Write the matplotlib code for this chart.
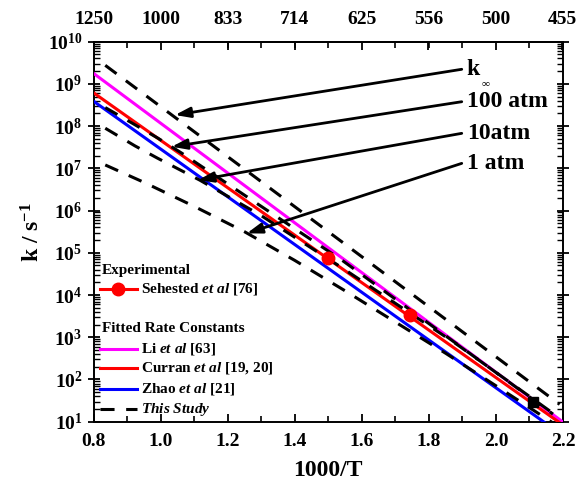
import matplotlib
matplotlib.use("Agg")
import matplotlib.pyplot as plt
import numpy as np
from matplotlib.ticker import LogLocator, NullFormatter, FuncFormatter, MultipleLocator

plt.rcParams['font.family'] = ['Liberation Serif', 'DejaVu Serif']
plt.rcParams['font.weight'] = 'bold'
plt.rcParams['mathtext.fontset'] = 'custom'
plt.rcParams['mathtext.rm'] = 'Liberation Serif:bold'
plt.rcParams['mathtext.bf'] = 'Liberation Serif:bold'
plt.rcParams['mathtext.it'] = 'Liberation Serif:bold:italic'

# ---- fitted rate constants (log10 k vs 1000/T) ----
inv_T_fit = [0.8, 2.2]
log_k_li = [9.25, 0.99]
log_k_curran = [8.79, 0.92]
log_k_zhao = [8.59, 0.67]

# ---- experimental (Sehested et al) ----
inv_T_sehested = [1.50, 1.744]
log_k_sehested = [4.87, 3.52]

# extra measured point
inv_T_square = [2.11]
log_k_square = [1.47]

# ---- this study: high-pressure limit and fall-off curves ----
inv_T_kinf = [0.835, 1.50, 2.19]
log_k_kinf = [9.44, 5.50, 1.41]

inv_T_100 = [0.835, 0.924, 0.993, 1.063, 1.30, 1.54, 1.88, 2.17]
log_k_100 = [8.44, 8.03, 7.71, 7.36, 6.10, 4.83, 2.86, 1.18]

inv_T_10 = [0.835, 0.924, 0.991, 1.117, 1.30, 1.54, 1.88, 2.17]
log_k_10 = [7.95, 7.53, 7.24, 6.72, 5.88, 4.65, 2.85, 1.20]

inv_T_1 = [0.835, 0.95, 1.10, 1.25, 1.40, 1.55, 1.70, 1.85, 2.00, 2.17]
log_k_1 = [7.08, 6.67, 6.10, 5.50, 4.82, 4.10, 3.36, 2.62, 1.85, 0.97]

# ---- annotation labels: text anchor and arrow tip (1000/T, log10 k) ----
pressure_labels = ["k", "100 atm", "10atm", "1 atm"]
label_x = [1.898, 1.898, 1.898, 1.898]
label_logk = [9.346, 8.578, 7.829, 7.118]
tip_x = [1.043, 1.033, 1.112, 1.257]
tip_logk = [8.263, 7.512, 6.723, 5.460]

# ---- top axis temperatures ----
top_temps = [1250, 1000, 833, 714, 625, 556, 500, 455]

fig = plt.figure(figsize=(5.78, 4.88), dpi=100)
ax = fig.add_axes([0.1618, 0.1359, 0.8123, 0.7787])

lw_fit = 2.2
dash = (4.6, 3.8)

def k(v):
    return 10 ** np.asarray(v, dtype=float)

ax.plot(inv_T_fit, k(log_k_li), color='#ff00ff', lw=lw_fit, zorder=3)
ax.plot(inv_T_fit, k(log_k_curran), color='#ff0000', lw=lw_fit, zorder=3)
ax.plot(inv_T_fit, k(log_k_zhao), color='#0000ff', lw=lw_fit, zorder=3)

for xs, ys in [(inv_T_kinf, log_k_kinf), (inv_T_100, log_k_100),
               (inv_T_10, log_k_10), (inv_T_1, log_k_1)]:
    ax.plot(xs, k(ys), color='black', lw=2.2, dashes=dash, zorder=4)

ax.plot(inv_T_sehested, k(log_k_sehested), 'o', color='#ff0000', ms=9, zorder=5)
ax.plot(inv_T_square, k(log_k_square), 's', color='black', ms=7, zorder=5)

for lab, lx, ly, tx, ty in zip(pressure_labels, label_x, label_logk, tip_x, tip_logk):
    ax.annotate("", xy=(tx, 10 ** ty), xytext=(lx, 10 ** ly),
                arrowprops=dict(arrowstyle='-|>,head_length=0.65,head_width=0.22',
                                lw=2.0, color='black',
                                mutation_scale=14, shrinkA=0, shrinkB=0),
                zorder=6)
    ax.text(lx + 0.015, 10 ** ly, lab, fontsize=17, fontweight='bold',
            ha='left', va='center', zorder=6)
# subscript of the high-pressure limit label
ax.text(label_x[0] + 0.058, 10 ** (label_logk[0] - 0.33), "\u221e", fontsize=8,
        fontweight='bold', ha='left', va='center', zorder=6)

ax.set_yscale('log')
ax.set_xlim(0.8, 2.2)
ax.set_ylim(1e1, 1e10)

ax.xaxis.set_major_locator(MultipleLocator(0.2))
ax.xaxis.set_minor_locator(MultipleLocator(0.1))
ax.xaxis.set_major_formatter(FuncFormatter(lambda v, p: f"{v:.1f}"))
ax.yaxis.set_major_locator(LogLocator(base=10, numticks=20))
ax.yaxis.set_minor_locator(LogLocator(base=10, subs=np.arange(2, 10), numticks=20))
ax.yaxis.set_minor_formatter(NullFormatter())
ax.yaxis.set_major_formatter(FuncFormatter(lambda v, p: r"$10^{%d}$" % round(np.log10(v))))

ax.tick_params(axis='x', which='major', direction='in', length=6, width=1.3,
               labelsize=14, pad=8, top=False)
ax.tick_params(axis='x', which='minor', direction='in', length=4, width=1.2, top=False)
ax.tick_params(axis='y', which='major', direction='inout', length=8, width=1.3,
               labelsize=14, pad=4, right=True)
ax.tick_params(axis='y', which='minor', direction='in', length=4, width=1.0, right=True)
for s in ax.spines.values():
    s.set_linewidth(1.4)

top = ax.secondary_xaxis('top')
top.set_xticks([1000.0 / t for t in top_temps], labels=[str(t) for t in top_temps])
top.xaxis.set_minor_locator(MultipleLocator(0.1))
top.tick_params(axis='x', which='major', direction='in', length=6, width=1.3,
                labelsize=14, pad=10)
top.tick_params(axis='x', which='minor', direction='in', length=4, width=1.2)
top.spines['top'].set_linewidth(1.4)

ax.set_xlabel("1000/T", fontsize=17, fontweight='bold')
ax.xaxis.set_label_coords(0.5, -0.10)
ax.set_ylabel(r"k / s$^{-1}$", fontsize=17, fontweight='bold')
ax.yaxis.set_label_coords(-0.105, 0.5)

# ---- legend drawn in axes coordinates ----
tr = ax.transAxes
fs_leg = 11
hx0, hx1, tx = 0.0138, 0.092, 0.101
ax.text(0.0175, 0.397, "Experimental", transform=tr, fontsize=fs_leg,
        fontweight='bold', ha='left', va='center')
ax.plot([hx0, hx1], [0.348, 0.348], color='#ff0000', lw=2.2, transform=tr)
ax.plot([(hx0 + hx1) / 2], [0.348], 'o', color='#ff0000', ms=9, transform=tr)
ax.text(tx, 0.348, r"Sehested $et\ al$ [76]", transform=tr, fontsize=fs_leg,
        ha='left', va='center')
ax.text(0.0175, 0.244, "Fitted Rate Constants", transform=tr, fontsize=fs_leg,
        fontweight='bold', ha='left', va='center')
legend_rows = [
    (0.191, '#ff00ff', None, r"Li $et\ al$ [63]"),
    (0.1405, '#ff0000', None, r"Curran $et\ al$ [19, 20]"),
    (0.085, '#0000ff', None, r"Zhao $et\ al$ [21]"),
    (0.033, 'black', dash, r"$This\ Study$"),
]
for y, c, d, t in legend_rows:
    if d is None:
        ax.plot([hx0, hx1], [y, y], color=c, lw=2.2, transform=tr)
    else:
        ax.plot([hx0, hx1], [y, y], color=c, lw=2.2, dashes=d, transform=tr)
    ax.text(tx, y, t, transform=tr, fontsize=fs_leg, ha='left', va='center')

fig.savefig("out.png", dpi=100)
